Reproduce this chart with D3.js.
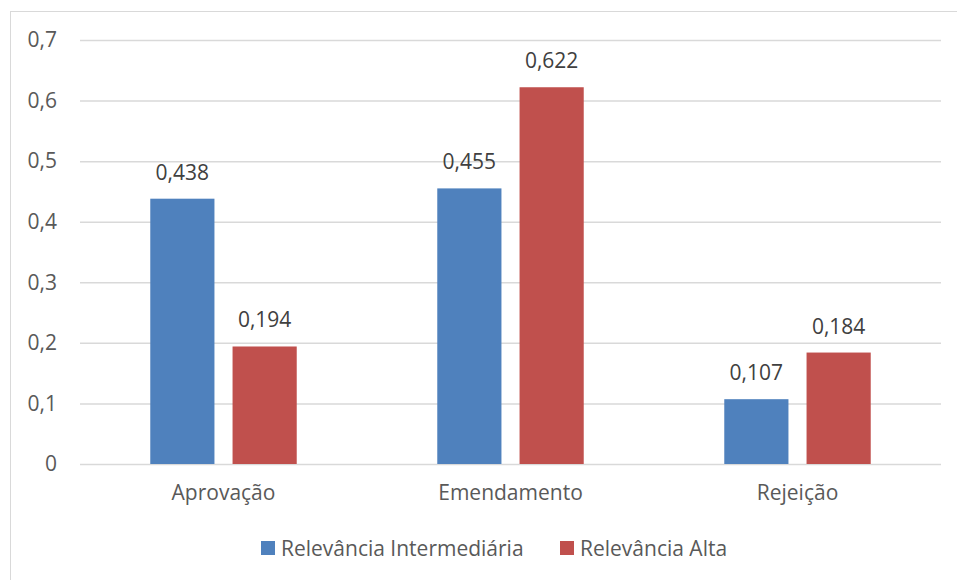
<!DOCTYPE html>
<html><head><meta charset="utf-8">
<script src="https://cdn.jsdelivr.net/npm/d3@7"></script>
<style>body{margin:0;background:#fff}svg{display:block}text{font-family:"Open Sans",sans-serif}</style>
</head><body>
<script>
const categories = ["Aprovação", "Emendamento", "Rejeição"];
const seriesNames = ["Relevância Intermediária", "Relevância Alta"];
const intermediaria = [0.438, 0.455, 0.107];
const alta = [0.194, 0.622, 0.184];
const yTicks = [0, 0.1, 0.2, 0.3, 0.4, 0.5, 0.6, 0.7];
const colors = ["#4F81BD", "#C0504D"];

const W = 957, H = 580;
const svg = d3.select("body").append("svg").attr("width", W).attr("height", H);
svg.append("rect").attr("x", 10.5).attr("y", 11.5).attr("width", 960).attr("height", 600)
  .attr("fill", "#fff").attr("stroke", "#d9d9d9");

const x0 = d3.scaleBand().domain(categories).range([80, 941]).paddingInner(0).paddingOuter(0);
const x1 = d3.scaleBand().domain(seriesNames).range([0, x0.bandwidth()]).paddingInner(0.22).paddingOuter(0.854);
const y = d3.scaleLinear().domain([0, 0.7]).range([464, 40]);

const grid = svg.append("g").attr("class", "grid")
  .attr("transform", "translate(80,0)")
  .call(d3.axisLeft(y).tickValues(yTicks).tickSize(-861).tickFormat(""));
grid.select(".domain").remove();
grid.selectAll("line").attr("stroke", "#d9d9d9").attr("stroke-width", 1.5);

const yAx = svg.append("g").attr("transform", "translate(57,0)")
  .call(d3.axisLeft(y).tickValues(yTicks).tickSize(0).tickPadding(0)
    .tickFormat(d => d3.format(".1~f")(d).replace(".", ",")));
yAx.select(".domain").remove();
yAx.selectAll("text").attr("font-size", 21).attr("fill", "#595959").attr("font-family", "Open Sans");

const xAx = svg.append("g").attr("transform", "translate(0,464)")
  .call(d3.axisBottom(x0).tickSize(0).tickPadding(21));
xAx.select(".domain").remove();
xAx.selectAll("text").attr("font-size", 21).attr("fill", "#595959").attr("font-family", "Open Sans");

const data = categories.map((c, i) => ({cat: c, vals: [intermediaria[i], alta[i]]}));
const groups = svg.selectAll("g.cat").data(data).join("g").attr("class", "cat")
  .attr("transform", d => `translate(${x0(d.cat)},0)`);
groups.selectAll("rect").data(d => d.vals.map((v, j) => ({s: seriesNames[j], v, j})))
  .join("rect")
  .attr("x", d => x1(d.s)).attr("width", x1.bandwidth())
  .attr("y", d => y(d.v)).attr("height", d => y(0) - y(d.v))
  .attr("fill", d => colors[d.j]);
groups.selectAll("text.lbl").data(d => d.vals.map((v, j) => ({s: seriesNames[j], v, j})))
  .join("text").attr("class", "lbl")
  .attr("x", d => x1(d.s) + x1.bandwidth() / 2).attr("y", d => y(d.v) - 19)
  .attr("text-anchor", "middle").attr("font-size", 21).attr("fill", "#404040")
  .text(d => d3.format(".3f")(d.v).replace(".", ","));

const leg = svg.append("g");
const legX = [261, 560];
seriesNames.forEach((s, i) => {
  leg.append("rect").attr("x", legX[i]).attr("y", 541).attr("width", 14).attr("height", 14).attr("fill", colors[i]);
  leg.append("text").attr("x", legX[i] + 20).attr("y", 556).attr("font-size", 21).attr("fill", "#595959").text(s);
});
</script>
</body></html>
